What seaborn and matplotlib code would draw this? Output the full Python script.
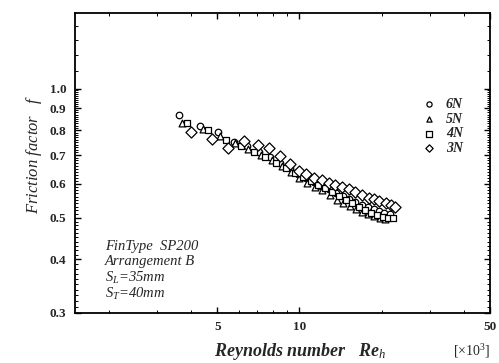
import numpy as np
import pandas as pd
import matplotlib
matplotlib.use('Agg')
import matplotlib.pyplot as plt
from matplotlib.ticker import FixedLocator, NullFormatter, FixedFormatter
import seaborn as sns

# friction factor vs Reynolds number (x10^3)
re_6N = [3.60, 4.32, 5.02, 5.73, 6.4, 7.1, 7.8, 8.5, 9.2, 9.9, 10.6, 11.3, 12.0, 12.8,
         13.6, 14.4, 15.2, 16.0, 16.9, 17.8, 18.7, 19.6, 20.5, 21.4]
f_6N = [0.868, 0.820, 0.791, 0.752, 0.735, 0.712, 0.693, 0.672, 0.652, 0.633, 0.620, 0.606,
        0.594, 0.582, 0.572, 0.562, 0.552, 0.545, 0.536, 0.530, 0.524, 0.519, 0.514, 0.510]
re_5N = [3.70, 4.42, 5.1, 5.8, 6.5, 7.2, 7.9, 8.6, 9.3, 10.0, 10.7, 11.4, 12.1, 12.9,
         13.7, 14.5, 15.3, 16.1, 17.0, 17.9, 18.8, 19.7, 20.6]
f_5N = [0.833, 0.804, 0.775, 0.745, 0.722, 0.700, 0.680, 0.660, 0.640, 0.620, 0.603, 0.590,
        0.579, 0.566, 0.550, 0.541, 0.533, 0.525, 0.516, 0.510, 0.505, 0.500, 0.497]
re_4N = [3.88, 4.6, 5.37, 6.1, 6.8, 7.5, 8.2, 8.9, 9.6, 10.3, 11.0, 11.7, 12.4, 13.2,
         14.0, 14.8, 15.6, 16.5, 17.4, 18.3, 19.2, 20.2, 21.1, 22.1]
f_4N = [0.833, 0.800, 0.759, 0.735, 0.713, 0.693, 0.672, 0.654, 0.636, 0.622, 0.609, 0.596,
        0.585, 0.573, 0.561, 0.550, 0.541, 0.530, 0.520, 0.512, 0.507, 0.503, 0.500, 0.498]
re_3N = [3.99, 4.77, 5.49, 6.27, 7.02, 7.71, 8.46, 9.21, 10.0, 10.6, 11.3, 12.1, 12.8, 13.5,
         14.3, 15.2, 16.0, 17.0, 18.0, 18.8, 19.6, 20.7, 21.6, 22.5]
f_3N = [0.791, 0.762, 0.728, 0.755, 0.739, 0.726, 0.696, 0.667, 0.644, 0.633, 0.618, 0.612,
        0.604, 0.597, 0.590, 0.583, 0.575, 0.566, 0.557, 0.552, 0.547, 0.542, 0.536, 0.531]

series = [('6N', re_6N, f_6N, 'o', 22),
          ('5N', re_5N, f_5N, '^', 24),
          ('4N', re_4N, f_4N, 's', 22),
          ('3N', re_3N, f_3N, 'D', 32)]

y_labels = ['0.3', '0.4', '0.5', '0.6', '0.7', '0.8', '0.9', '1.0']
x_labels = ['5', '10', '50']

sns.set_style('ticks')
plt.rcParams['font.family'] = ['Liberation Serif', 'DejaVu Serif']
plt.rcParams['mathtext.fontset'] = 'custom'
plt.rcParams['mathtext.rm'] = 'Liberation Serif'
plt.rcParams['mathtext.it'] = 'Liberation Serif:italic'
plt.rcParams['mathtext.bf'] = 'Liberation Serif:bold:italic'

fig = plt.figure(figsize=(4.99, 3.63), dpi=100)
ax = fig.add_axes([0.150, 0.138, 0.832, 0.826])

for name, re, f, mk, sz in series:
    df = pd.DataFrame({'Re': re, 'f': f})
    sns.scatterplot(data=df, x='Re', y='f', marker=mk, s=sz, facecolor='white',
                    edgecolor='black', linewidth=0.9, label=name, ax=ax)

ax.set_xscale('log')
ax.set_yscale('log')
ax.set_xlim(1.5, 50)
ax.set_ylim(0.3, 1.5)

ax.xaxis.set_major_locator(FixedLocator([float(v) for v in x_labels]))
ax.xaxis.set_major_formatter(FixedFormatter(x_labels))
ax.xaxis.set_minor_locator(FixedLocator([2, 3, 4, 6, 7, 8, 9, 20, 30, 40]))
ax.xaxis.set_minor_formatter(NullFormatter())
ax.yaxis.set_major_locator(FixedLocator([float(v) for v in y_labels]))
ax.yaxis.set_major_formatter(FixedFormatter(y_labels))
ymin = [round(0.3 + 0.01 * i, 2) for i in range(1, 70)] + [1.1, 1.2, 1.3, 1.4]
ax.yaxis.set_minor_locator(FixedLocator(ymin))
ax.yaxis.set_minor_formatter(NullFormatter())

ax.tick_params(which='both', direction='in', top=True, right=True, color='black')
ax.tick_params(which='major', length=4, width=1.0, labelsize=9.5, pad=6)
ax.tick_params(which='minor', length=2, width=0.7)
for lab in ax.get_xticklabels() + ax.get_yticklabels():
    lab.set_fontweight('bold')
for sp in ax.spines.values():
    sp.set_linewidth(1.3)
    sp.set_color('black')

ax.set_xlabel('Reynolds number   Re$_{h}$', fontsize=13, fontstyle='italic', fontweight='bold')
ax.xaxis.set_label_coords(0.542, -0.13)
ax.xaxis.label.set_va('center')
ax.set_ylabel('Friction factor   $f$', fontsize=12, fontstyle='italic')
ax.yaxis.set_label_coords(-0.075, 0.53)
ax.text(0.955, -0.128, '[×10$^{3}$]', transform=ax.transAxes, ha='center', va='center',
        fontsize=10)

notes = ['FinType  SP200', 'Arrangement B', '$S_L$=35mm', '$S_T$=40mm']
for i, t in enumerate(notes):
    ax.text(0.072, 0.223 - i * 0.053, t, transform=ax.transAxes, fontsize=10.5,
            fontstyle='italic', va='center', ha='left')

leg = ax.legend(loc='upper left', bbox_to_anchor=(0.82, 0.735), frameon=False,
                handletextpad=0.6, labelspacing=0.12, borderaxespad=0, handlelength=1.2,
                prop={'size': 10, 'style': 'italic', 'weight': 'bold'})
for h in leg.legend_handles:
    h.set_sizes([14])

fig.savefig('out.png', dpi=100)
